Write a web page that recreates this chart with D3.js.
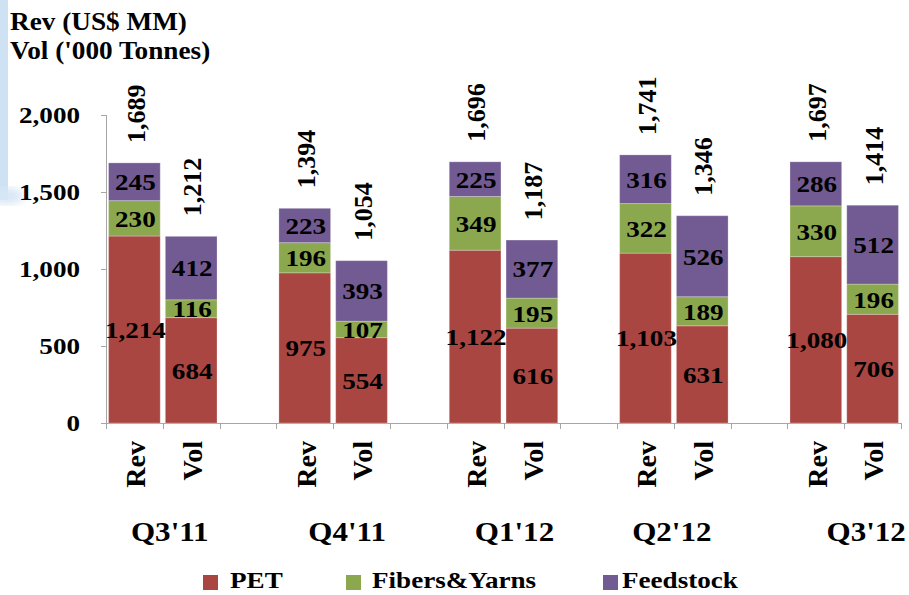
<!DOCTYPE html>
<html>
<head>
<meta charset="utf-8">
<script src="https://cdn.jsdelivr.net/npm/d3@7"></script>
<style>
  html, body { margin: 0; padding: 0; background: #ffffff; }
  svg { display: block; }
</style>
</head>
<body>
<svg id="chart" width="909" height="595"></svg>
<script>
// Quarterly revenue (US$ MM) and volume ('000 tonnes) by segment
const quarters = ["Q3'11", "Q4'11", "Q1'12", "Q2'12", "Q3'12"];
const measures = ["Rev", "Vol"];
const segments = ["PET", "Fibers&Yarns", "Feedstock"];
const segmentColors = ["#A94642", "#8CA84F", "#725A92"];

const revPET = [1214, 975, 1122, 1103, 1080];
const revFibers = [230, 196, 349, 322, 330];
const revFeedstock = [245, 223, 225, 316, 286];
const revTotal = [1689, 1394, 1696, 1741, 1697];

const volPET = [684, 554, 616, 631, 706];
const volFibers = [116, 107, 195, 189, 196];
const volFeedstock = [412, 393, 377, 526, 512];
const volTotal = [1212, 1054, 1187, 1346, 1414];

const yTicks = [0, 500, 1000, 1500, 2000];

const FONT = "'Liberation Serif', 'Times New Roman', Times, serif";

const svg = d3.select("#chart")
  .attr("font-family", FONT)
  .attr("font-weight", "bold");
const fmt = d3.format(",");

function label(sel) {
  return sel.attr("font-family", FONT).attr("font-weight", "bold").attr("fill", "#000");
}

// light blue slide edge
const defs = svg.append("defs");
defs.append("filter").attr("id", "soft").append("feGaussianBlur").attr("stdDeviation", 4);
svg.append("rect").attr("x", 0).attr("y", 0).attr("width", 8).attr("height", 200).attr("fill", "#CFE2F4");
svg.append("ellipse").attr("cx", 6).attr("cy", 196).attr("rx", 18).attr("ry", 8)
  .attr("fill", "#D6E6F5").attr("filter", "url(#soft)");

// one slot per bar, plus a spacer slot between quarters
const slots = [];
quarters.forEach((q, i) => {
  slots.push(q + "|Rev", q + "|Vol");
  if (i < quarters.length - 1) slots.push(q + "|gap");
});

const x = d3.scaleBand().domain(slots).range([106, 901]).paddingInner(0.09).paddingOuter(0.045);
const y = d3.scaleLinear().domain([0, 2000]).range([423, 115]);
const step = x.step();
const bw = x.bandwidth();

// rows for stacking
const rows = [];
quarters.forEach((q, i) => {
  rows.push({ key: q + "|Rev", q, m: measures[0], "PET": revPET[i], "Fibers&Yarns": revFibers[i], "Feedstock": revFeedstock[i], total: revTotal[i] });
  rows.push({ key: q + "|Vol", q, m: measures[1], "PET": volPET[i], "Fibers&Yarns": volFibers[i], "Feedstock": volFeedstock[i], total: volTotal[i] });
});
const stack = d3.stack().keys(segments)(rows);

const hscale = "scale(1.13,1)";

// y axis
const axisColor = "#A6A6A6";
svg.append("line").attr("x1", 106.5).attr("x2", 106.5).attr("y1", y(2000)).attr("y2", y(0))
  .attr("stroke", axisColor).attr("stroke-width", 1);
yTicks.forEach(t => {
  svg.append("line").attr("x1", 101).attr("x2", 106.5).attr("y1", Math.round(y(t)) + 0.5).attr("y2", Math.round(y(t)) + 0.5)
    .attr("stroke", axisColor);
  label(svg.append("text")).attr("transform", `translate(80,${y(t)}) ${hscale}`)
    .attr("text-anchor", "end").attr("dy", "0.35em").attr("font-size", 24).text(fmt(t));
});

// x axis with slot boundary ticks
svg.append("line").attr("x1", 106).attr("x2", 901).attr("y1", y(0) + 0.5).attr("y2", y(0) + 0.5)
  .attr("stroke", axisColor);
d3.range(slots.length + 1).forEach(i => {
  const tx = Math.round(106 + i * step) + 0.5;
  svg.append("line").attr("x1", tx).attr("x2", tx).attr("y1", y(0)).attr("y2", y(0) + 6).attr("stroke", axisColor);
});

// stacked bars
stack.forEach((layer, li) => {
  svg.append("g").selectAll("rect").data(layer).join("rect")
    .attr("x", d => x(d.data.key))
    .attr("width", bw)
    .attr("y", d => y(d[1]))
    .attr("height", d => y(d[0]) - y(d[1]))
    .attr("fill", segmentColors[li])
    .attr("stroke", "rgba(255,255,255,0.25)")
    .attr("stroke-width", 1);
});

// segment value labels
stack.forEach(layer => {
  label(svg.append("g").selectAll("text").data(layer).join("text"))
    .attr("transform", d => `translate(${x(d.data.key) + bw / 2 + 1},${y((d[0] + d[1]) / 2)}) ${hscale}`)
    .attr("text-anchor", "middle").attr("dy", "0.35em").attr("font-size", 24)
    .text(d => fmt(d[1] - d[0]));
});

// totals above bars, rotated
label(svg.append("g").selectAll("text").data(rows).join("text"))
  .attr("transform", d => `translate(${x(d.key) + bw / 2 + 1},${y(d.total) - 20}) rotate(-90)`)
  .attr("text-anchor", "start").attr("dy", "0.35em").attr("font-size", 26)
  .text(d => fmt(d.total));

// Rev / Vol category labels
label(svg.append("g").selectAll("text").data(rows).join("text"))
  .attr("transform", d => `translate(${x(d.key) + bw / 2 + 1},441) rotate(-90)`)
  .attr("text-anchor", "end").attr("dy", "0.35em").attr("font-size", 28)
  .text(d => d.m);

// quarter labels
const labelShift = [7, 14, 11, -2, 22];
quarters.forEach((q, i) => {
  const cx = (x(q + "|Rev") + x(q + "|Vol") + bw) / 2 + labelShift[i];
  label(svg.append("text")).attr("transform", `translate(${cx},541) scale(1.15,1)`)
    .attr("text-anchor", "middle").attr("font-size", 27).text(q);
});

// title
label(svg.append("text")).attr("transform", "translate(10,30) scale(1.09,1)").attr("font-size", 25).text("Rev (US$ MM)");
label(svg.append("text")).attr("transform", "translate(10,59) scale(1.09,1)").attr("font-size", 25).text("Vol ('000 Tonnes)");

// legend
const legendX = [203, 346, 603];
const legendTextX = [230, 372, 622];
segments.forEach((s, i) => {
  svg.append("rect").attr("x", legendX[i]).attr("y", 575).attr("width", 15).attr("height", 15).attr("fill", segmentColors[i]);
  label(svg.append("text")).attr("transform", `translate(${legendTextX[i]},588) ${hscale}`)
    .attr("font-size", 24).text(s);
});
</script>
</body>
</html>
